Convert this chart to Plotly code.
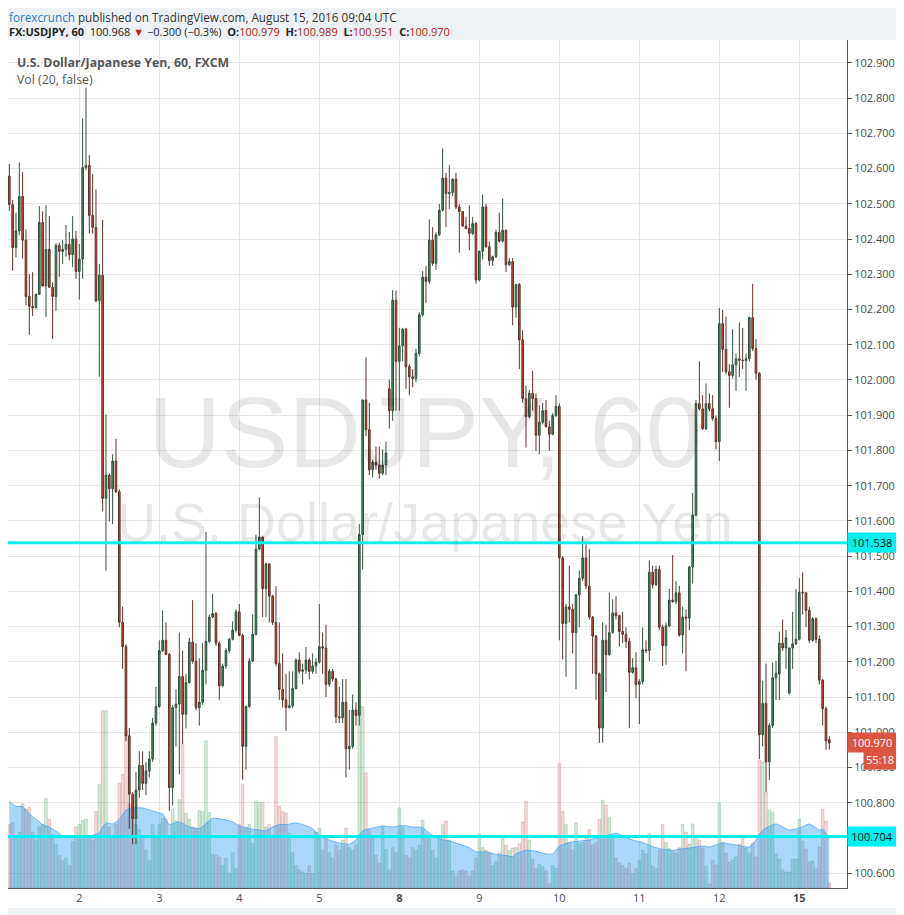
import pandas as pd
import plotly.graph_objects as go

# FX:USDJPY hourly candles, 1 - 15 Aug 2016 (UTC), weekend hours left out
times = (list(pd.date_range("2016-08-01 03:00", "2016-08-05 20:00", freq="h"))
         + list(pd.date_range("2016-08-07 21:00", "2016-08-12 20:00", freq="h"))
         + list(pd.date_range("2016-08-14 21:00", "2016-08-15 09:00", freq="h")))

opens = [102.579, 102.498, 102.376, 102.423, 102.521, 102.397, 102.237, 102.209, 102.205, 102.243,
         102.447, 102.267, 102.371, 102.263, 102.237, 102.382, 102.365, 102.371, 102.385, 102.356,
         102.400, 102.308, 102.343, 102.603, 102.609, 102.467, 102.433, 102.225, 102.297, 101.664,
         101.730, 101.691, 101.770, 101.683, 101.312, 101.243, 100.990, 100.824, 100.755, 100.836,
         100.906, 100.855, 100.890, 100.924, 101.026, 101.073, 101.232, 101.261, 101.221, 100.843,
         101.070, 101.080, 101.158, 101.051, 101.141, 101.256, 101.202, 101.070, 101.085, 101.176,
         101.258, 101.327, 101.337, 101.253, 101.132, 101.188, 101.232, 101.264, 101.290, 101.342,
         101.275, 100.960, 101.073, 101.202, 101.278, 101.520, 101.554, 101.408, 101.478, 101.386,
         101.312, 101.195, 101.122, 101.092, 101.070, 101.075, 101.124, 101.205, 101.173, 101.177,
         101.205, 101.173, 101.188, 101.199, 101.243, 101.239, 101.136, 101.173, 101.151, 101.044,
         101.041, 101.085, 100.953, 100.960, 101.063, 101.048, 101.561, 101.943, 101.859, 101.745,
         101.767, 101.759, 101.735, 101.759, 101.975, 101.913, 102.226, 102.053, 102.097, 102.144,
         102.038, 102.009, 102.004, 102.075, 102.185, 102.292, 102.280, 102.397, 102.331, 102.412,
         102.482, 102.573, 102.529, 102.532, 102.570, 102.491, 102.478, 102.437, 102.430, 102.416,
         102.444, 102.284, 102.365, 102.491, 102.378, 102.339, 102.350, 102.419, 102.394, 102.425,
         102.327, 102.336, 102.207, 102.271, 102.114, 101.947, 101.896, 101.962, 101.947, 101.843,
         101.880, 101.913, 101.867, 101.846, 101.899, 101.925, 101.495, 101.309, 101.356, 101.349,
         101.283, 101.390, 101.437, 101.495, 101.415, 101.327, 101.273, 101.166, 101.012, 101.261,
         101.220, 101.283, 101.339, 101.331, 101.286, 101.278, 101.258, 101.170, 101.183, 101.136,
         101.144, 101.234, 101.232, 101.454, 101.419, 101.462, 101.298, 101.246, 101.302, 101.375,
         101.371, 101.396, 101.276, 101.327, 101.324, 101.469, 101.616, 101.933, 101.918, 101.862,
         101.933, 101.918, 101.891, 101.825, 102.160, 102.087, 102.023, 102.013, 102.043, 102.060,
         102.056, 102.055, 102.060, 102.177, 102.089, 102.019, 100.993, 101.082, 100.916, 101.019,
         101.155, 101.166, 101.253, 101.239, 101.111, 101.239, 101.251, 101.264, 101.397, 101.396,
         101.346, 101.261, 101.322, 101.264, 101.148, 101.067, 100.979]
highs = [102.613, 102.511, 102.475, 102.617, 102.590, 102.427, 102.300, 102.306, 102.246, 102.494,
         102.479, 102.496, 102.465, 102.277, 102.388, 102.390, 102.397, 102.440, 102.420, 102.465,
         102.423, 102.386, 102.742, 102.830, 102.638, 102.584, 102.541, 102.329, 102.454, 101.902,
         101.735, 101.789, 101.833, 101.690, 101.356, 101.250, 101.012, 100.830, 100.887, 100.946,
         100.946, 100.916, 100.946, 101.041, 101.129, 101.261, 101.346, 101.312, 101.225, 101.078,
         101.122, 101.283, 101.232, 101.166, 101.268, 101.375, 101.253, 101.210, 101.253, 101.569,
         101.334, 101.393, 101.342, 101.258, 101.195, 101.239, 101.268, 101.315, 101.349, 101.364,
         101.280, 101.076, 101.210, 101.334, 101.561, 101.667, 101.556, 101.481, 101.480, 101.390,
         101.415, 101.312, 101.224, 101.166, 101.173, 101.173, 101.210, 101.227, 101.195, 101.242,
         101.210, 101.224, 101.210, 101.364, 101.283, 101.305, 101.180, 101.180, 101.155, 101.129,
         101.151, 101.151, 101.063, 101.107, 101.085, 101.591, 101.945, 102.064, 101.935, 101.774,
         101.811, 101.811, 101.803, 101.825, 102.001, 102.255, 102.254, 102.148, 102.148, 102.148,
         102.045, 102.031, 102.089, 102.192, 102.309, 102.324, 102.456, 102.434, 102.419, 102.500,
         102.657, 102.588, 102.610, 102.573, 102.588, 102.500, 102.480, 102.463, 102.496, 102.463,
         102.449, 102.368, 102.526, 102.500, 102.393, 102.353, 102.427, 102.475, 102.515, 102.427,
         102.346, 102.346, 102.273, 102.275, 102.141, 101.984, 101.972, 102.026, 101.962, 101.928,
         101.935, 101.943, 101.884, 101.906, 101.957, 101.933, 101.500, 101.364, 101.473, 101.364,
         101.392, 101.459, 101.557, 101.539, 101.520, 101.330, 101.276, 101.170, 101.312, 101.305,
         101.397, 101.378, 101.386, 101.334, 101.342, 101.298, 101.268, 101.210, 101.227, 101.151,
         101.298, 101.261, 101.488, 101.473, 101.473, 101.473, 101.305, 101.312, 101.407, 101.503,
         101.429, 101.415, 101.356, 101.349, 101.473, 101.679, 101.943, 102.053, 101.957, 101.990,
         101.962, 101.957, 101.899, 102.204, 102.199, 102.180, 102.045, 102.144, 102.075, 102.163,
         102.148, 102.075, 102.180, 102.273, 102.116, 102.023, 101.146, 101.195, 101.026, 101.198,
         101.202, 101.286, 101.320, 101.290, 101.240, 101.342, 101.407, 101.437, 101.454, 101.397,
         101.356, 101.327, 101.327, 101.275, 101.151, 101.073, 100.989]
lows = [102.480, 102.310, 102.348, 102.411, 102.344, 102.211, 102.128, 102.182, 102.203, 102.241,
        102.265, 102.179, 102.262, 102.116, 102.196, 102.293, 102.329, 102.350, 102.340, 102.321,
        102.287, 102.228, 102.287, 102.595, 102.416, 102.416, 102.220, 102.009, 101.627, 101.459,
        101.598, 101.591, 101.679, 101.298, 101.180, 100.975, 100.726, 100.682, 100.682, 100.814,
        100.836, 100.821, 100.872, 100.916, 101.019, 101.070, 101.228, 101.219, 100.777, 100.792,
        100.960, 100.880, 100.968, 101.011, 101.138, 101.195, 101.063, 101.019, 101.078, 101.136,
        101.253, 101.325, 101.246, 101.092, 101.129, 101.180, 101.224, 101.261, 101.283, 101.273,
        100.865, 100.894, 101.070, 101.200, 101.275, 101.517, 101.327, 101.327, 101.312, 101.305,
        101.188, 101.092, 101.070, 101.004, 101.068, 101.068, 101.122, 101.166, 101.136, 101.166,
        101.151, 101.166, 101.166, 101.195, 101.166, 101.100, 101.129, 101.144, 101.026, 101.026,
        101.026, 100.872, 100.894, 100.953, 101.019, 101.019, 101.462, 101.840, 101.730, 101.723,
        101.745, 101.720, 101.730, 101.730, 101.862, 101.884, 101.913, 101.913, 102.053, 101.975,
        101.957, 101.979, 101.994, 102.067, 102.180, 102.218, 102.273, 102.324, 102.312, 102.409,
        102.478, 102.434, 102.485, 102.522, 102.485, 102.361, 102.434, 102.427, 102.368, 102.412,
        102.273, 102.280, 102.342, 102.375, 102.324, 102.324, 102.346, 102.390, 102.390, 102.306,
        102.324, 102.155, 102.177, 102.031, 101.935, 101.808, 101.891, 101.913, 101.799, 101.789,
        101.874, 101.866, 101.799, 101.843, 101.895, 101.261, 101.207, 101.158, 101.312, 101.224,
        101.122, 101.298, 101.429, 101.407, 101.320, 101.166, 101.092, 100.970, 100.970, 101.114,
        101.217, 101.280, 101.320, 101.243, 101.253, 101.239, 101.012, 101.166, 101.097, 101.023,
        101.136, 101.224, 101.202, 101.408, 101.415, 101.290, 101.188, 101.192, 101.298, 101.368,
        101.364, 101.271, 101.224, 101.173, 101.290, 101.422, 101.613, 101.913, 101.858, 101.858,
        101.911, 101.884, 101.803, 101.770, 102.023, 102.016, 101.921, 102.004, 101.969, 102.009,
        102.031, 101.969, 102.053, 102.082, 102.001, 100.924, 100.960, 100.831, 100.865, 101.012,
        101.092, 101.092, 101.231, 101.180, 101.107, 101.180, 101.248, 101.261, 101.334, 101.298,
        101.253, 101.256, 101.253, 101.136, 101.019, 100.950, 100.951]
closes = [102.498, 102.376, 102.423, 102.521, 102.397, 102.237, 102.209, 102.205, 102.243, 102.447,
          102.267, 102.371, 102.263, 102.237, 102.382, 102.365, 102.371, 102.385, 102.356, 102.400,
          102.308, 102.343, 102.603, 102.609, 102.467, 102.433, 102.225, 102.297, 101.664, 101.730,
          101.691, 101.770, 101.683, 101.312, 101.243, 100.990, 100.824, 100.755, 100.836, 100.906,
          100.855, 100.890, 100.924, 101.026, 101.073, 101.232, 101.261, 101.221, 100.843, 101.070,
          101.080, 101.158, 101.051, 101.141, 101.256, 101.202, 101.070, 101.085, 101.176, 101.258,
          101.327, 101.337, 101.253, 101.132, 101.188, 101.232, 101.264, 101.290, 101.342, 101.275,
          100.960, 101.073, 101.202, 101.278, 101.520, 101.554, 101.408, 101.478, 101.386, 101.312,
          101.195, 101.122, 101.092, 101.070, 101.075, 101.124, 101.205, 101.173, 101.177, 101.205,
          101.173, 101.188, 101.199, 101.243, 101.239, 101.136, 101.173, 101.151, 101.044, 101.041,
          101.085, 100.953, 100.960, 101.063, 101.048, 101.561, 101.943, 101.859, 101.745, 101.767,
          101.759, 101.735, 101.759, 101.793, 101.913, 102.226, 102.053, 102.097, 102.144, 102.038,
          102.009, 102.004, 102.075, 102.185, 102.292, 102.280, 102.397, 102.331, 102.412, 102.482,
          102.573, 102.529, 102.532, 102.570, 102.491, 102.478, 102.437, 102.430, 102.416, 102.444,
          102.284, 102.365, 102.491, 102.378, 102.339, 102.350, 102.419, 102.394, 102.425, 102.327,
          102.336, 102.207, 102.271, 102.114, 101.947, 101.896, 101.962, 101.947, 101.843, 101.880,
          101.913, 101.867, 101.846, 101.899, 101.925, 101.495, 101.309, 101.356, 101.349, 101.283,
          101.390, 101.437, 101.495, 101.415, 101.327, 101.273, 101.166, 101.012, 101.261, 101.220,
          101.283, 101.339, 101.331, 101.286, 101.278, 101.258, 101.170, 101.183, 101.136, 101.144,
          101.234, 101.232, 101.454, 101.419, 101.462, 101.298, 101.246, 101.302, 101.375, 101.371,
          101.396, 101.276, 101.327, 101.324, 101.469, 101.616, 101.933, 101.918, 101.862, 101.933,
          101.918, 101.891, 101.825, 102.160, 102.087, 102.023, 102.013, 102.043, 102.060, 102.056,
          102.055, 102.060, 102.177, 102.089, 102.019, 100.993, 101.082, 100.916, 101.019, 101.155,
          101.166, 101.253, 101.239, 101.268, 101.239, 101.251, 101.264, 101.397, 101.396, 101.346,
          101.261, 101.322, 101.264, 101.148, 101.067, 100.975, 100.970]
volumes = [63.5, 65.1, 49.1, 55.8, 84.2, 79.0, 80.6, 55.8, 48.0, 61.0,
           63.5, 89.4, 68.7, 53.2, 43.9, 32.5, 27.4, 30.0, 22.2, 46.5,
           61.0, 63.5, 67.7, 68.7, 50.6, 48.0, 76.4, 103.8, 177.2, 177.2,
           61.0, 50.6, 63.5, 104.9, 113.6, 157.5, 84.2, 81.6, 63.5, 58.4,
           50.6, 37.7, 27.4, 63.5, 50.6, 63.5, 69.7, 68.7, 50.6, 79.0,
           67.1, 88.3, 144.6, 74.9, 68.7, 61.0, 59.9, 77.5, 76.4, 147.2,
           75.4, 33.6, 32.5, 31.0, 22.2, 30.0, 14.5, 35.1, 19.6, 63.5,
           103.8, 61.0, 63.5, 44.4, 86.8, 85.7, 85.7, 61.0, 63.5, 53.2,
           151.3, 81.6, 76.4, 74.9, 54.8, 35.1, 22.2, 18.1, 16.0, 14.5,
           22.2, 14.5, 55.8, 59.9, 37.7, 52.2, 35.1, 30.0, 42.9, 37.7,
           48.0, 59.9, 40.3, 37.7, 42.9, 209.2, 181.3, 115.2, 58.4, 50.6,
           32.5, 24.8, 61.0, 38.7, 18.1, 40.3, 35.1, 80.1, 61.0, 32.5,
           30.0, 40.3, 37.7, 42.9, 67.7, 53.2, 50.6, 37.7, 30.0, 50.6,
           63.5, 67.1, 48.0, 17.0, 11.9, 17.0, 18.1, 17.0, 11.9, 17.0,
           30.0, 54.2, 40.3, 37.7, 35.1, 22.2, 26.3, 35.1, 50.6, 42.9,
           37.7, 40.0, 40.3, 44.4, 66.1, 86.8, 48.0, 28.9, 19.6, 23.8,
           21.2, 17.0, 4.1, 22.2, 19.6, 124.5, 76.4, 63.5, 45.5, 37.7,
           65.1, 44.4, 45.5, 49.6, 58.4, 42.9, 45.5, 68.7, 87.8, 83.2,
           70.2, 50.6, 30.0, 24.8, 22.2, 19.6, 24.8, 14.5, 19.6, 27.4,
           37.7, 34.1, 54.2, 22.2, 19.6, 37.7, 63.5, 45.5, 39.3, 36.7,
           35.1, 40.3, 63.5, 55.8, 43.9, 64.0, 51.0, 48.0, 40.0, 22.0,
           4.0, 28.0, 23.0, 85.0, 46.0, 35.0, 26.0, 28.0, 31.0, 44.0,
           51.0, 40.0, 35.0, 45.0, 31.0, 128.0, 126.0, 96.0, 78.0, 76.0,
           34.0, 29.0, 18.0, 16.0, 16.0, 29.0, 29.0, 69.0, 47.0, 39.0,
           26.0, 27.0, 20.0, 41.0, 79.0, 67.0, 5.0]

# Vol (20) moving average, read at these candles
vol_ma_idx = [0, 2, 4, 6, 8, 10, 12, 14, 16, 20, 24, 27, 28, 29, 31, 33, 35, 37, 40, 43,
              46, 48, 51, 54, 57, 59, 61, 64, 67, 69, 72, 74, 77, 79, 81, 83, 86, 88, 91, 93,
              96, 99, 102, 104, 106, 109, 112, 115, 118, 121, 124, 126, 129, 132, 135, 138, 140, 143, 146, 149,
              151, 152, 155, 158, 161, 163, 165, 168, 171, 174, 177, 180, 182, 184, 187, 190, 193, 196, 199, 202,
              204, 208, 210, 214, 218, 222, 224, 226, 230, 234, 237, 240, 243, 244, 245, 246]
vol_ma = [86.8, 81.6, 81.6, 73.9, 68.7, 63.5, 61.0, 56.8, 52.2, 52.2, 52.2, 55.0, 61.0, 65.1, 64.0, 68.7, 78.0, 80.0, 80.0, 77.0,
          74.0, 63.5, 66.1, 61.0, 59.4, 64.6, 69.7, 68.7, 66.1, 62.0, 59.4, 58.4, 57.3, 61.0, 63.5, 63.5, 65.1, 63.5, 59.4, 52.2,
          48.0, 45.0, 43.9, 48.0, 57.3, 59.9, 62.0, 61.0, 62.5, 61.0, 60.4, 54.8, 49.1, 47.0, 43.9, 40.3, 36.2, 36.2, 33.6, 32.5,
          31.5, 34.1, 37.7, 36.7, 34.1, 34.1, 41.8, 45.5, 47.0, 48.0, 50.6, 53.2, 54.8, 52.2, 48.0, 45.5, 41.3, 38.7, 37.7, 39.3,
          40.0, 42.0, 41.0, 45.0, 43.0, 41.0, 48.0, 58.0, 64.0, 58.0, 60.0, 64.0, 58.0, 59.0, 54.0, 52.0]

levels = [101.538, 100.704]
last_change = "100.968"
countdown = "55:18"

x = list(range(len(times)))
day_idx = [i for i, t in enumerate(times) if t.hour == 0]
day_text = [f"<b>{times[i].day}</b>" if times[i].weekday() == 0 else str(times[i].day) for i in day_idx]

up = [c >= o for o, c in zip(opens, closes)]
bar_fill = ["rgba(70,165,90,0.22)" if u else "rgba(190,80,80,0.20)" for u in up]
bar_edge = ["rgba(70,150,90,0.45)" if u else "rgba(170,80,80,0.40)" for u in up]

fig = go.Figure()
fig.add_trace(go.Bar(x=x, y=volumes, width=0.8, yaxis="y",
                     marker=dict(color=bar_fill, line=dict(color=bar_edge, width=0.6))))
fig.add_trace(go.Scatter(x=vol_ma_idx, y=vol_ma, yaxis="y", mode="lines", fill="tozeroy",
                         line=dict(color="rgba(60,160,245,0.7)", width=1, shape="spline", smoothing=0.5),
                         fillcolor="rgba(30,150,240,0.38)"))
fig.add_trace(go.Candlestick(x=x, open=opens, high=highs, low=lows, close=closes, yaxis="y2",
                             whiskerwidth=0,
                             increasing=dict(fillcolor="#3c8b5b", line=dict(color="#33503f", width=1)),
                             decreasing=dict(fillcolor="#d6432f", line=dict(color="#5e322c", width=1))))

grid = "#e6e6e6"
fig.update_layout(
    width=896, height=907,
    margin=dict(l=0, r=57, t=32, b=27),
    paper_bgcolor="#eef2f5", plot_bgcolor="white",
    font=dict(family="Open Sans", size=11, color="#4a4a4a"),
    showlegend=False,
    xaxis=dict(range=[-0.39, 251.3], tickvals=day_idx, ticktext=day_text, showgrid=True, gridcolor=grid,
               showline=True, linecolor="#555", linewidth=1, zeroline=False, ticks="",
               rangeslider=dict(visible=False), tickfont=dict(size=11, color="#4a4a4a")),
    yaxis=dict(range=[0, 848], visible=False, showgrid=False, zeroline=False),
    yaxis2=dict(overlaying="y", side="right", range=[100.558, 102.965], tick0=100.6, dtick=0.1,
                tickformat=".3f", showgrid=True, gridcolor=grid, zeroline=False,
                showline=True, linecolor="#555", linewidth=1, mirror=True,
                ticks="outside", ticklen=4, tickcolor="#555", tickfont=dict(size=11, color="#4a4a4a")),
)

shapes = [dict(type="rect", xref="paper", yref="paper", x0=0, x1=1.0596, y0=-0.0236, y1=1,
               fillcolor="white", line=dict(width=0), layer="below")]
for lv in levels:
    shapes.append(dict(type="line", xref="paper", yref="y2", x0=0, x1=1, y0=lv, y1=lv,
                       line=dict(color="#00f0f0", width=3)))
fig.update_layout(shapes=shapes)

red = "#b22222"
ann = [
    dict(x=0, y=1.0372, xref="paper", yref="paper", xanchor="left", yanchor="top", showarrow=False,
         text="<span style='color:#2a78c6'>forexcrunch</span> published on TradingView.com, August 15, 2016 09:04 UTC",
         font=dict(size=11.7, color="#333"), borderpad=0),
    dict(x=0, y=1.0097, xref="paper", yref="paper", xanchor="left", yanchor="middle", showarrow=False,
         text=(f"<b>FX:USDJPY, 60</b>  {last_change} <span style='color:{red}'>▼</span> −0.300 (−0.3%)  "
               f"<b>O:</b><span style='color:{red}'>{opens[-1]:.3f}</span>  "
               f"<b>H:</b><span style='color:{red}'>{highs[-1]:.3f}</span>  "
               f"<b>L:</b><span style='color:{red}'>{lows[-1]:.3f}</span>  "
               f"<b>C:</b><span style='color:{red}'>{closes[-1]:.3f}</span>"),
         font=dict(size=11, color="#222"), borderpad=0),
    dict(x=0.0083, y=0.974, xref="paper", yref="paper", xanchor="left", yanchor="middle", showarrow=False,
         text="<b>U.S. Dollar/Japanese Yen, 60, FXCM</b>", font=dict(size=12.3, color="#555")),
    dict(x=0.0083, y=0.953, xref="paper", yref="paper", xanchor="left", yanchor="middle", showarrow=False,
         text="Vol (20, false)", font=dict(size=12.3, color="#555")),
    dict(x=0.497, y=0.5377, xref="paper", yref="paper", showarrow=False, text="USDJPY, 60",
         font=dict(family="Liberation Sans", size=101, color="rgba(0,0,0,0.09)")),
    dict(x=0.497, y=0.4316, xref="paper", yref="paper", showarrow=False, text="U.S. Dollar/Japanese Yen",
         font=dict(family="Liberation Sans", size=54, color="rgba(0,0,0,0.09)")),
]
for lv in levels:
    ann.append(dict(x=1.0, y=lv, xref="paper", yref="y2", xanchor="left", yanchor="middle", showarrow=False,
                    text=f"{lv:.3f}", bgcolor="#00f0f0", font=dict(size=11, color="#111"),
                    width=44, borderpad=2))
ann.append(dict(x=1.0, y=closes[-1], xref="paper", yref="y2", xanchor="left", yanchor="middle",
                showarrow=False, text=f"{closes[-1]:.3f}", bgcolor="#dd5540",
                font=dict(size=11, color="white"), width=44, borderpad=2))
ann.append(dict(x=1.0596, y=closes[-1], xref="paper", yref="y2", xanchor="right", yanchor="middle",
                yshift=-17, showarrow=False, text=countdown, bgcolor="#dd5540",
                font=dict(size=11, color="white"), borderpad=2))
fig.update_layout(annotations=ann)

fig.write_html("out.html")
